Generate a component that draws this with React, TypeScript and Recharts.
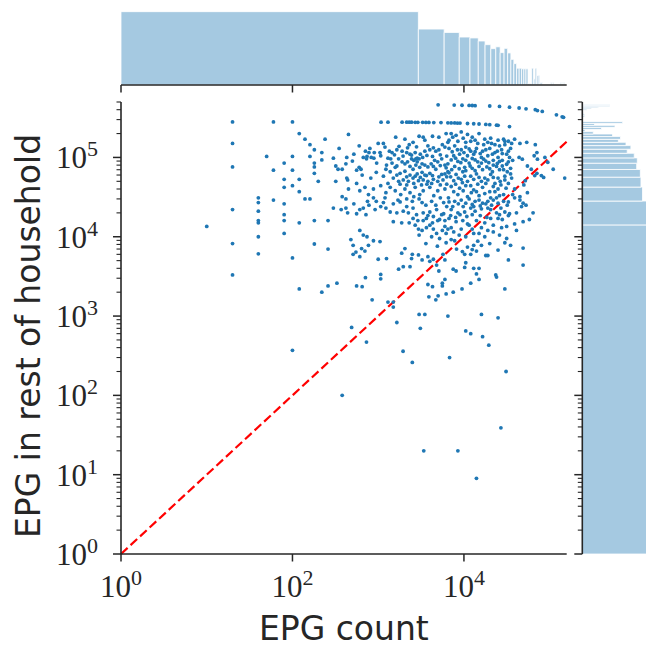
import { ReferenceArea, ReferenceLine, Scatter, ScatterChart, XAxis, YAxis } from "recharts";

// [EPG count, EPG in rest of household]
const sparseLeft: [number, number][] = [
  [20, 280000], [60, 280000], [100, 280000], [120, 200000], [140, 170000], [240, 170000],
  [160, 145000], [180, 125000], [220, 115000], [20, 150000], [50, 103000], [100, 103000],
  [160, 103000], [220, 93000], [180, 85000], [180, 76000], [20, 76000], [80, 85000],
  [60, 69000], [100, 69000], [180, 63000], [80, 53000], [120, 53000], [200, 50000],
  [80, 42000], [100, 44000], [120, 37000], [40, 31000], [40, 27000], [60, 29000],
  [80, 26000], [140, 30000], [160, 30000], [20, 22000], [40, 21000], [80, 19000],
  [40, 16000], [40, 15000], [80, 16000], [120, 15000], [180, 16000], [260, 16000],
  [10, 13500], [80, 11000], [40, 10000], [20, 8200], [180, 8100], [260, 7000],
  [40, 6100], [100, 5400], [20, 3300], [260, 2400], [120, 2200], [220, 2000]
];

const lowerTail: [number, number][] = [
  [100, 370], [380, 100], [490, 720], [730, 470], [850, 1600], [1300, 1500], [1500, 1500],
  [1500, 1300], [1650, 830], [1950, 360], [2500, 260], [3000, 1050], [3100, 700], [3400, 20],
  [3500, 1050], [3900, 1750], [4700, 1600], [5000, 1800], [6500, 1000], [6800, 300], [8500, 20],
  [10500, 650], [12000, 600], [14000, 9], [16000, 1050], [16500, 550], [19500, 430],
  [25000, 950], [27000, 39], [31000, 200], [330, 2600], [560, 2400], [650, 2350], [710, 3050],
  [1070, 3350], [1070, 2950], [3800, 2500], [4300, 2350], [5600, 2400], [5600, 2600],
  [6000, 2900], [6200, 1900], [7500, 2000], [9500, 2200], [12000, 2600], [14000, 3400],
  [15000, 2900], [23500, 3300], [30000, 2200]
];

const midBand: [number, number][] = [
  [300, 23000], [370, 22000], [420, 23000], [440, 20000], [520, 26000], [560, 19500],
  [610, 22000], [670, 23000], [720, 19000], [780, 25000], [920, 22000], [950, 28000],
  [1070, 24000], [1150, 27000], [1230, 23000], [1380, 20500], [1500, 26000], [1650, 20000],
  [1800, 27500], [1960, 21000], [2150, 24000], [2250, 20000], [2550, 23000], [2800, 19000],
  [3250, 27000], [3350, 20000], [3650, 17000], [4000, 20500], [4400, 18000], [4800, 22000],
  [5500, 19000], [6000, 16000], [6300, 24000],
  [480, 9200], [510, 7800], [610, 12000], [670, 10500], [740, 10000], [770, 7800], [880, 8900],
  [1050, 8700], [640, 7100], [700, 6600], [510, 6000], [610, 5600], [550, 6400], [1000, 5200],
  [1250, 5300],
  [2550, 17000], [2700, 14000], [2950, 12500], [3250, 12000], [3650, 13000], [4000, 14000],
  [4400, 12500], [4800, 11000], [5600, 12000], [6000, 13500], [6500, 12500], [4950, 16000],
  [3350, 16000], [1500, 15500], [1880, 15000], [2300, 15000],
  [1880, 6200], [2050, 7100], [2450, 5300], [2500, 6000], [2950, 5900], [3250, 5100],
  [3800, 5600], [4000, 4900], [4400, 5200], [4800, 4400], [5700, 6000], [6000, 5100],
  [2350, 4200], [1960, 4200], [1730, 3900], [5100, 3700]
];

const coreWest: [number, number][] = [
  [450, 195000], [300, 98000], [320, 78000], [340, 71000], [380, 71000], [320, 50000],
  [430, 100000], [420, 83000], [430, 55000], [440, 52000], [380, 32000], [420, 30000],
  [600, 75000], [630, 71000], [560, 69000], [710, 120000], [740, 103000], [780, 115000],
  [830, 100000], [890, 98000], [730, 96000], [670, 100000], [1000, 150000], [1150, 150000],
  [1050, 115000], [1070, 105000], [1350, 120000], [1450, 115000], [1300, 98000], [1400, 96000],
  [1450, 85000], [1600, 180000], [2050, 170000], [2300, 145000], [2550, 155000], [3000, 185000],
  [3350, 180000], [3500, 165000], [4300, 185000], [5100, 180000], [6200, 200000], [6500, 155000],
  [1650, 125000], [1900, 120000], [2150, 115000], [2350, 110000], [2700, 115000], [2850, 98000],
  [3000, 96000], [3300, 100000], [3500, 120000], [4000, 125000], [4700, 120000], [5100, 125000],
  [6000, 135000],
  [1730, 96000], [1900, 88000], [2050, 83000], [2200, 88000], [2450, 96000], [2600, 92000],
  [2750, 96000], [2850, 88000], [3250, 83000], [3500, 80000], [3800, 76000], [4150, 83000],
  [4550, 92000], [4950, 88000], [5500, 96000], [6000, 80000], [6500, 83000],
  [1230, 71000], [1380, 66000], [1580, 75000], [1800, 63000], [2050, 67000], [2350, 60000],
  [2550, 71000], [2850, 62000], [3250, 65000], [3650, 59000], [4000, 63000], [4700, 71000],
  [5100, 57000], [6000, 62000], [6500, 66000],
  [1500, 55000], [1730, 50000], [1960, 52000], [2250, 50000], [2550, 55000], [2950, 51000],
  [3350, 52000], [3800, 50000], [4400, 53000], [4950, 50000], [5700, 52000],
  [610, 38000], [700, 42000], [770, 34000], [880, 40000], [1070, 44000], [1230, 36000],
  [1380, 42000], [1580, 38000], [1830, 34000], [2050, 40000], [2350, 36000], [2700, 42000],
  [3050, 34000], [3350, 38000], [4000, 42000], [4450, 33000], [4950, 38000], [6000, 40000]
];

const topRows: [number, number][] = [
  [5000, 460000], [7700, 457000], [9500, 455000], [11500, 453000], [12500, 452000],
  [13500, 450000], [20000, 445000], [26000, 440000], [34000, 430000], [44000, 420000],
  [53000, 410000], [68000, 400000], [72000, 390000], [82000, 380000], [120000, 345000],
  [140000, 325000], [145000, 320000],
  [1080, 278000], [1300, 278000], [1900, 278000], [2150, 278000], [2300, 278000],
  [2450, 278000], [2700, 277000], [2900, 277000], [3300, 277000], [3600, 276000],
  [3900, 276000], [4450, 275000], [5400, 275000], [6500, 273000], [7100, 272000],
  [7800, 272000], [8400, 271000], [9000, 271000], [11000, 268000], [13000, 266000],
  [15000, 264000], [18000, 261000], [20000, 259000], [24000, 255000], [25000, 254000],
  [34000, 245000]
];

const coreEast: [number, number][] = [
  [7100, 200000], [8100, 190000], [9300, 210000], [11000, 195000], [12500, 180000],
  [15000, 200000], [17500, 170000], [20500, 175000], [25000, 165000], [29000, 170000],
  [33000, 160000], [6700, 165000], [8500, 160000], [10500, 155000], [13500, 165000],
  [19000, 155000], [23000, 145000], [30000, 145000],
  [6700, 130000], [7800, 140000], [9300, 125000], [10500, 135000], [12000, 120000],
  [14000, 130000], [16500, 120000], [20000, 130000], [23000, 115000], [27500, 125000],
  [31500, 110000], [35000, 130000], [7600, 105000], [8900, 110000], [11000, 105000],
  [13000, 110000], [16000, 100000], [19000, 105000], [25000, 100000], [34000, 100000],
  [7100, 93000], [8500, 89000], [9700, 96000], [11500, 85000], [13500, 93000], [16000, 85000],
  [18000, 90000], [22000, 80000], [26000, 89000], [31500, 82000], [7800, 77000], [10200, 75000],
  [12500, 73000], [15000, 77000], [20000, 72000], [24000, 77000], [29000, 70000], [35000, 73000],
  [6700, 64000], [8100, 61000], [9700, 66000], [12000, 58000], [14000, 62000], [17500, 55000],
  [20500, 61000], [25000, 55000], [30000, 58000], [35000, 62000], [7600, 51000], [9300, 53000],
  [11000, 50000], [16000, 50000], [23000, 47000], [33000, 47000],
  [7100, 43000], [8900, 41000], [10500, 44000], [13000, 39000], [16500, 42000], [20000, 37000],
  [25000, 40000], [29000, 34000], [8500, 34000], [11000, 32000], [15000, 33000], [20500, 31000],
  [39000, 170000], [45000, 150000], [54000, 155000], [68000, 145000], [71000, 115000],
  [66000, 105000], [48000, 95000], [44000, 100000], [55000, 78000], [61000, 71000],
  [72000, 95000], [88000, 100000], [95000, 87000], [110000, 71000], [71000, 63000],
  [67000, 59000], [52000, 51000], [50000, 45000], [80000, 59000], [85000, 56000],
  [150000, 55000], [55000, 36000], [45000, 32000], [39000, 40000], [37000, 34000]
];

const eastLower: [number, number][] = [
  [6700, 27500], [7800, 28000], [9300, 29000], [10500, 26500], [12500, 25500], [13500, 28000],
  [15000, 29000], [16500, 26500], [19000, 28000], [22000, 29000], [25000, 26500], [29000, 28000],
  [33000, 27500], [39000, 31000], [45000, 29000], [49000, 26500], [53000, 25000],
  [7100, 22000], [8500, 20000], [10200, 20500], [12000, 23000], [13500, 21000], [16000, 22500],
  [19000, 23000], [20500, 22000], [24000, 20000], [26000, 19000], [30000, 20500], [34000, 19500],
  [41000, 20000], [47000, 24000], [64000, 20000], [58000, 16500], [49000, 15500], [39000, 14500],
  [6700, 17000], [8100, 15500], [9700, 16000], [11500, 14000], [14000, 16000], [17500, 15000],
  [20500, 17000], [25000, 17000], [27500, 13000], [31500, 13500], [33000, 18500],
  [7100, 13000], [9300, 12500], [11000, 14500], [15000, 11000], [17500, 10000], [19000, 12000],
  [13000, 11000], [10500, 10000], [7800, 8900], [7100, 9200],
  [31500, 9500], [30000, 8400], [35000, 7800], [41000, 12000],
  [11000, 7400], [13000, 7800], [16000, 7800], [14000, 6600], [12500, 6900], [12000, 6000],
  [10200, 6000], [18000, 5800], [19000, 5800], [33000, 5100], [49000, 7200], [49000, 4400],
  [10500, 4700], [10200, 4100], [7500, 3900], [8100, 3700], [13000, 4000], [15000, 4000],
  [24000, 3100]
];

// extra points read from the dense core of the cloud
const coreFill: [number, number][] = [
  [1200, 135000], [1750, 138000], [2200, 132000], [2800, 136000], [3800, 140000], [4400, 132000],
  [5600, 145000], [1550, 108000], [1950, 104000], [2450, 107000], [3100, 110000], [3700, 106000],
  [4300, 103000], [5300, 108000], [6300, 104000], [1250, 80000], [1650, 78000], [2350, 77000],
  [2750, 80000], [3050, 75000], [4400, 77000], [5300, 79000], [6200, 74000], [1150, 58000],
  [1650, 60000], [2150, 57000], [2700, 58000], [3100, 56000], [3500, 60000], [4300, 59000],
  [5500, 61000], [6300, 57000], [1300, 47000], [1800, 46000], [2150, 45000], [2600, 47000],
  [3200, 45000], [3700, 46000], [4200, 47000], [5300, 45000], [6300, 46000],
  [7400, 180000], [9800, 175000], [12000, 160000], [14500, 150000], [17000, 145000], [21000, 150000],
  [26000, 140000], [30000, 160000], [36000, 150000], [7300, 118000], [8400, 125000], [10000, 115000],
  [11500, 128000], [13500, 118000], [15500, 112000], [18000, 125000], [21500, 110000], [24500, 120000],
  [28000, 112000], [33000, 120000], [8000, 98000], [9200, 86000], [10500, 92000], [12500, 97000],
  [14500, 88000], [17000, 95000], [19500, 86000], [22000, 92000], [24500, 84000], [28000, 92000],
  [33000, 88000], [37000, 92000], [7200, 70000], [8800, 72000], [10500, 68000], [11800, 78000],
  [13500, 68000], [16500, 70000], [18500, 76000], [21500, 66000], [26000, 70000], [28000, 78000],
  [32000, 66000], [7000, 57000], [8600, 55000], [10200, 58000], [13000, 53000], [15000, 56000],
  [19000, 52000], [22000, 56000], [26500, 50000], [30000, 52000], [36000, 55000], [8000, 46000],
  [9600, 48000], [12000, 44000], [14500, 46000], [18000, 47000], [22000, 43000], [27000, 45000],
  [31000, 41000], [7600, 37000], [9800, 38000], [12200, 36000], [14000, 37000], [17500, 35000],
  [23000, 37000], [26000, 33000],
  [3000, 30000], [3600, 25000], [4200, 28000], [4700, 25000], [5300, 31000], [5800, 27000],
  [6600, 31000], [7400, 24000], [8600, 26000], [9800, 24000], [11500, 30000], [13000, 24000],
  [15500, 24500], [18000, 26000], [21000, 25000], [24000, 31000], [27000, 23000], [32000, 25000],
  [2900, 16000], [3800, 18500], [4300, 15000], [5200, 16500], [5800, 19500], [7000, 18500],
  [8000, 17500], [9000, 19000], [10800, 18000], [12500, 19000], [15500, 18500], [18500, 17500],
  [22000, 14000], [28000, 16500], [3000, 10500], [4200, 10000], [5200, 9500], [6200, 11000],
  [7600, 11500], [8800, 10500], [12500, 12500], [16000, 13000], [22000, 11500], [26000, 10500],
  [3600, 8200], [4900, 7600], [6200, 8400], [8200, 7000], [9600, 6500], [14500, 8800],
  [20000, 8200], [25000, 6800],
  [350, 130000], [520, 110000], [600, 140000], [800, 130000], [900, 115000], [960, 85000],
  [500, 90000], [650, 60000], [820, 55000], [950, 65000], [450, 40000], [560, 47000],
  [750, 28000], [880, 31000], [1200, 31000], [1700, 29000], [2150, 30000], [2500, 28000],
  [2600, 32000]
];

const points = [
  ...sparseLeft, ...lowerTail, ...midBand, ...coreWest, ...topRows, ...coreEast, ...eastLower, ...coreFill
].map(([x, y]) => ({ x, y }));

// marginal histograms: equal-width bins starting at 1
const topBinWidth = 2940;
const topCounts = [
  240, 183, 172, 157, 154, 144, 132, 119, 125, 106, 120, 105, 84, 70, 55, 55, 53, 53, 53, 5,
  5, 55, 20, 55, 31, 31, 8, 8, 0, 0, 0, 0, 0, 0, 0, 8, 0, 8, 0, 0, 0, 0, 0, 0, 0, 8, 0, 8, 0, 8, 8
];
const rightBinWidth = 14100;
const rightCounts = [
  240, 228, 197, 192, 190, 178, 180, 170, 147, 159, 143, 118, 125, 99, 36, 9, 63, 107, 40, 132,
  0, 0, 0, 8, 8, 3, 0, 0, 15, 30, 52, 90, 90
];

const xTicks = [1, 100, 10000];
const yMajor = [1, 10, 100, 1000, 10000, 100000];
const yTicks = yMajor.flatMap((d) => [1, 2, 3, 4, 5, 6, 7, 8, 9].map((m) => m * d)).filter((v) => v <= 500000);

const X_MAX = 158000;
const Y_MAX = 500000;
const INK = "#262626";
const BLUE = "#1f77b4";
const SERIF = "'Liberation Serif', 'DejaVu Serif', serif";
const SANS = "'DejaVu Sans', sans-serif";

const topBins = topCounts
  .map((c, i) => ({ lo: 1 + i * topBinWidth, hi: 1 + (i + 1) * topBinWidth, c }))
  .filter((b) => b.c > 0);
const rightBins = rightCounts
  .map((c, i) => ({ lo: 1 + i * rightBinWidth, hi: 1 + (i + 1) * rightBinWidth, c }))
  .filter((b) => b.c > 0);
const topMax = Math.max(...topCounts) * 1.05;
const rightMax = Math.max(...rightCounts) * 1.05;

const isMajor = (v: number) => Math.abs(Math.log10(v) - Math.round(Math.log10(v))) < 1e-6;

function Pow10({ x, y, exp, anchor }: { x: number; y: number; exp: number; anchor: string }) {
  return (
    <text x={x} y={y} textAnchor={anchor} fontFamily={SERIF} fontSize={31} fill={INK}>
      10
      <tspan dy={-12} fontSize={22}>
        {exp}
      </tspan>
    </text>
  );
}

function XTick(props: any) {
  const { x, y, payload, labels } = props;
  return (
    <g>
      <line x1={x} x2={x} y1={y} y2={y + 7.5} stroke={INK} strokeWidth={1.5} />
      {labels && <Pow10 x={x} y={y + 43} exp={Math.round(Math.log10(payload.value))} anchor="middle" />}
    </g>
  );
}

function YTick(props: any) {
  const { x, y, payload, labels } = props;
  const major = isMajor(payload.value);
  return (
    <g>
      <line x1={x - (major ? 8 : 4.5)} x2={x} y1={y} y2={y} stroke={INK} strokeWidth={major ? 1.5 : 1.1} />
      {labels && major && (
        <Pow10 x={x - 23} y={y + 11} exp={Math.round(Math.log10(payload.value))} anchor="end" />
      )}
    </g>
  );
}

const Dot = (p: any) => <circle cx={p.cx} cy={p.cy} r={1.9} fill={BLUE} />;
const Empty = () => <g />;

export default function App() {
  return (
    <div
      style={{ position: "absolute", left: 0, top: 0, width: 646, height: 650, overflow: "hidden", background: "#fff" }}
    >
      {/* top marginal */}
      <div style={{ position: "absolute", left: 0, top: 0 }}>
        <ScatterChart width={646} height={120} margin={{ top: 8, right: 79.3, bottom: 5, left: 121 }}>
          <XAxis
            type="number"
            dataKey="x"
            scale="log"
            domain={[1, X_MAX]}
            allowDataOverflow
            ticks={xTicks}
            interval={0}
            tickLine={false}
            tickSize={0}
            tickMargin={0}
            tick={(p: any) => <XTick {...p} labels={false} />}
            axisLine={{ stroke: INK, strokeWidth: 1.6 }}
            height={30}
          />
          <YAxis type="number" dataKey="y" domain={[0, topMax]} allowDataOverflow hide />
          <Scatter
            data={topBins.map((b) => ({ x: b.lo, y: b.c }))}
            shape={Empty}
            isAnimationActive={false}
          />
          {topBins.map((b, i) => (
            <ReferenceArea
              key={i}
              x1={b.lo}
              x2={b.hi}
              y1={0}
              y2={b.c}
              fill={BLUE}
              fillOpacity={0.4}
              stroke="#ffffff"
              strokeWidth={0.8}
              strokeOpacity={1}
              ifOverflow="visible"
            />
          ))}
        </ScatterChart>
      </div>

      {/* right marginal */}
      <div style={{ position: "absolute", left: 500, top: 0 }}>
        <ScatterChart width={200} height={650} margin={{ top: 102, right: 40.7, bottom: 96, left: 72.3 }}>
          <XAxis type="number" dataKey="x" domain={[0, rightMax]} allowDataOverflow hide />
          <YAxis
            type="number"
            dataKey="y"
            scale="log"
            domain={[1, Y_MAX]}
            allowDataOverflow
            ticks={yTicks}
            interval={0}
            tickLine={false}
            tickSize={0}
            tickMargin={0}
            tick={(p: any) => <YTick {...p} labels={false} />}
            axisLine={{ stroke: INK, strokeWidth: 1.6 }}
            width={10}
          />
          <Scatter
            data={rightBins.map((b) => ({ x: b.c, y: b.lo }))}
            shape={Empty}
            isAnimationActive={false}
          />
          {rightBins.map((b, i) => (
            <ReferenceArea
              key={i}
              x1={0}
              x2={b.c}
              y1={b.lo}
              y2={b.hi}
              fill={BLUE}
              fillOpacity={0.4}
              stroke="#ffffff"
              strokeWidth={0.8}
              strokeOpacity={1}
              ifOverflow="visible"
            />
          ))}
        </ScatterChart>
      </div>

      {/* joint scatter */}
      <div style={{ position: "absolute", left: 0, top: 0 }}>
        <ScatterChart width={646} height={650} margin={{ top: 102, right: 79.3, bottom: 66, left: 61 }}>
          <XAxis
            type="number"
            dataKey="x"
            scale="log"
            domain={[1, X_MAX]}
            allowDataOverflow
            ticks={xTicks}
            interval={0}
            tickLine={false}
            tickSize={0}
            tickMargin={0}
            tick={(p: any) => <XTick {...p} labels />}
            axisLine={{ stroke: INK, strokeWidth: 1.6 }}
            height={30}
            label={(p: any) => {
              const vb = p.viewBox;
              return (
                <text x={vb.x + vb.width / 2} y={vb.y + 86} textAnchor="middle" fontFamily={SANS} fontSize={33} fill={INK}>
                  EPG count
                </text>
              );
            }}
          />
          <YAxis
            type="number"
            dataKey="y"
            scale="log"
            domain={[1, Y_MAX]}
            allowDataOverflow
            ticks={yTicks}
            interval={0}
            tickLine={false}
            tickSize={0}
            tickMargin={0}
            tick={(p: any) => <YTick {...p} labels />}
            axisLine={{ stroke: INK, strokeWidth: 1.6 }}
            width={60}
            label={() => (
              <text
                x={39.5}
                y={336}
                transform="rotate(-90 39.5 336)"
                textAnchor="middle"
                fontFamily={SANS}
                fontSize={33}
                fill={INK}
              >
                EPG in rest of household
              </text>
            )}
          />
          <Scatter data={points} shape={Dot} isAnimationActive={false} />
          <ReferenceLine
            segment={[
              { x: 1, y: 1 },
              { x: X_MAX, y: X_MAX }
            ]}
            stroke="#ff0000"
            strokeWidth={2.2}
            strokeDasharray="9 4"
            ifOverflow="visible"
          />
        </ScatterChart>
      </div>
    </div>
  );
}
